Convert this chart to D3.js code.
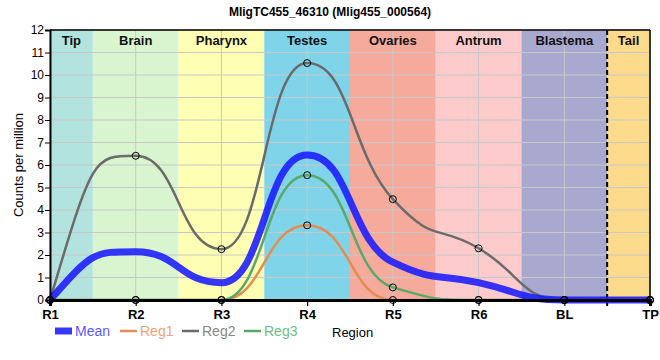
<!DOCTYPE html>
<html><head><meta charset="utf-8">
<script src="https://cdn.jsdelivr.net/npm/d3@7"></script>
<style>
html,body{margin:0;padding:0;background:#fff;}
svg{display:block;}
text{font-family:"Liberation Sans",Arial,sans-serif;}
</style></head>
<body>
<svg id="chart" width="660" height="360"></svg>
<script>
// ---- data ----
const regions = ["R1","R2","R3","R4","R5","R6","BL","TP"];
const bandNames = ["Tip","Brain","Pharynx","Testes","Ovaries","Antrum","Blastema","Tail"];
const bandColors = ["#b3e3de","#d9f5d0","#ffffb4","#7fd4ea","#f5aa9c","#fdcbcb","#a9a8cf","#fddb8c"];
const yTicks = [0,1,2,3,4,5,6,7,8,9,10,11,12];
const meanVals = [0, 2.15, 0.77, 6.45, 1.68, 0.77, 0, 0];
const reg1Vals = [0, 0, 0, 3.32, 0, 0, 0, 0];
const reg2Vals = [0, 6.41, 2.26, 10.53, 4.48, 2.30, 0, 0];
const reg3Vals = [0, 0, 0, 5.55, 0.56, 0, 0, 0];
const seriesNames = ["Mean","Reg1","Reg2","Reg3"];

// ---- layout ----
const L = 50, R = 650, T = 30, B = 300;
const svg = d3.select("#chart");

const xi = d3.scaleLinear().domain([0, regions.length - 1]).range([L, R]);
const xp = d3.scalePoint().domain(regions).range([L, R]);
const y = d3.scaleLinear().domain([0, 12]).range([B, T]);

// custom smooth monotone curve (handles pushed to segment middle)
function curveSmooth(context) {
  let pts = [];
  const A = 0.5;
  return {
    areaStart(){}, areaEnd(){},
    lineStart(){ pts = []; },
    point(x, yv){ pts.push([+x, +yv]); },
    lineEnd(){
      const n = pts.length;
      if (!n) return;
      context.moveTo(pts[0][0], pts[0][1]);
      if (n === 1) return;
      const s = [];
      for (let i = 0; i < n - 1; i++) s.push((pts[i+1][1]-pts[i][1])/(pts[i+1][0]-pts[i][0]));
      const m = new Array(n).fill(0);
      for (let i = 1; i < n - 1; i++) {
        const s0 = s[i-1], s1 = s[i];
        const p = (s0 + s1) / 2;
        m[i] = (Math.sign(s0) + Math.sign(s1)) * Math.min(Math.abs(s0), Math.abs(s1), 0.5*Math.abs(p)) || 0;
      }
      const endT = (sv, mn) => {
        if (sv === 0) return 0;
        let t = 3*sv - mn;
        if (Math.sign(t) !== Math.sign(sv)) return 0;
        if (Math.abs(t) > 3*Math.abs(sv)) t = 3*sv;
        return t;
      };
      m[0] = endT(s[0], n > 2 ? m[1] : s[0]);
      m[n-1] = endT(s[n-2], n > 2 ? m[n-2] : s[n-2]);
      const clamp = (v, a, b) => Math.max(Math.min(a, b), Math.min(Math.max(a, b), v));
      for (let i = 0; i < n - 1; i++) {
        const [x0, y0] = pts[i], [x1, y1] = pts[i+1];
        const dx = (x1 - x0) * A;
        const c1y = clamp(y0 + dx*m[i], y0, y1);
        const c2y = clamp(y1 - dx*m[i+1], y0, y1);
        context.bezierCurveTo(x0 + dx, c1y, x1 - dx, c2y, x1, y1);
      }
    }
  };
}

// bands
const bands = bandNames.map((name, i) => ({
  name, color: bandColors[i],
  x0: xi(Math.max(0, i - 0.5)), x1: xi(Math.min(regions.length - 1, i + 0.5)), cx: xi(i)
}));
svg.append("g").selectAll("rect").data(bands).join("rect")
  .attr("x", d => d.x0).attr("y", T).attr("width", d => d.x1 - d.x0).attr("height", B - T)
  .attr("fill", d => d.color);

// grid
const grid = svg.append("g").attr("stroke", "#c8c8c8").attr("stroke-width", 1);
grid.selectAll("line.h").data(yTicks).join("line").attr("class","h")
  .attr("x1", L).attr("x2", R).attr("y1", d => y(d)).attr("y2", d => y(d));
grid.selectAll("line.v").data(regions).join("line").attr("class","v")
  .attr("x1", d => xp(d)).attr("x2", d => xp(d)).attr("y1", T).attr("y2", B);

// band labels
svg.append("g").selectAll("text").data(bands).join("text")
  .attr("x", (d, i) => (i === 0 || i === bands.length - 1) ? (d.x0 + d.x1)/2 : d.cx)
  .attr("y", T + 15)
  .attr("text-anchor", "middle").attr("font-size", 13).attr("font-weight", "bold")
  .attr("fill", "#111").text(d => d.name);

// dashed separator between BL and TP
svg.append("line")
  .attr("x1", xi(regions.length - 1.5)).attr("x2", xi(regions.length - 1.5))
  .attr("y1", T).attr("y2", B + 6)
  .attr("stroke", "#000").attr("stroke-width", 2).attr("stroke-dasharray", "5,3");

// lines
const line = d3.line().x((d, i) => xi(i)).y(d => y(d)).curve(curveSmooth);
const series = [
  {name: "Reg1", vals: reg1Vals, color: "#e38d52", width: 2.5, text: "#f0a274"},
  {name: "Reg2", vals: reg2Vals, color: "#6b6b6b", width: 2.5, text: "#888888"},
  {name: "Reg3", vals: reg3Vals, color: "#5aa86a", width: 2.5, text: "#6cbc82"},
  {name: "Mean", vals: meanVals, color: "#1a1aff", width: 7, text: "#5a5aff", opacity: 0.88}
];
svg.append("g").selectAll("path").data(series).join("path")
  .attr("d", d => line(d.vals))
  .attr("fill", "none").attr("stroke", d => d.color)
  .attr("stroke-width", d => d.width)
  .attr("stroke-opacity", d => d.opacity || 1)
  .attr("stroke-linejoin", "round");

// axes
const yAxis = d3.axisLeft(y).tickValues(yTicks).tickSize(5).tickFormat(d3.format("d"));
const gy = svg.append("g").attr("transform", `translate(${L},0)`).call(yAxis);
gy.select(".domain").attr("stroke", "#000").attr("stroke-width", 2);
gy.selectAll(".tick line").attr("stroke", "#000");
gy.selectAll(".tick text").attr("font-size", 12).attr("font-family", "Liberation Sans, Arial, sans-serif").attr("fill", "#000").attr("x", -6);

const xAxis = d3.axisBottom(xp).tickSize(6).tickPadding(4);
const gx = svg.append("g").attr("transform", `translate(0,${B})`).call(xAxis);
gx.select(".domain").attr("stroke", "#000").attr("stroke-width", 3);
gx.selectAll(".tick line").attr("stroke", "#000").attr("stroke-width", 1.2);
gx.selectAll(".tick text").attr("font-size", 13).attr("font-weight", 600)
  .attr("font-family", "Roboto, sans-serif").attr("fill", "#000");

// top/right frame
svg.append("line").attr("x1", L).attr("x2", R).attr("y1", T).attr("y2", T).attr("stroke", "#000").attr("stroke-width", 1.5);
svg.append("line").attr("x1", R).attr("x2", R).attr("y1", T).attr("y2", B).attr("stroke", "#000").attr("stroke-width", 1.5);

// markers on Reg series
const markerData = [];
series.filter(s => s.name !== "Mean").forEach(s => s.vals.forEach((v, i) => markerData.push({i, v})));
svg.append("g").selectAll("circle").data(markerData).join("circle")
  .attr("cx", d => xi(d.i)).attr("cy", d => y(d.v)).attr("r", 3.5)
  .attr("fill", "none").attr("stroke", "#000").attr("stroke-width", 1);

// title
svg.append("text").attr("x", 330).attr("y", 16).attr("text-anchor", "middle")
  .attr("font-size", 12).attr("font-weight", "bold").attr("fill", "#000")
  .text("MligTC455_46310 (Mlig455_000564)");

// y label
svg.append("text").attr("transform", `translate(23,${(T + B)/2}) rotate(-90)`)
  .attr("text-anchor", "middle").attr("font-size", 13).attr("fill", "#000")
  .text("Counts per million");

// legend
const legendOrder = seriesNames.map(n => series.find(s => s.name === n));
const lg = svg.append("g").attr("transform", "translate(55,331)");
const lgItems = lg.selectAll("g").data(legendOrder).join("g")
  .attr("transform", (d, i) => `translate(${i * 62 + (i > 0 ? 3 : 0)},0)`);
lgItems.append("line").attr("x1", 0).attr("x2", 17).attr("y1", 0).attr("y2", 0)
  .attr("stroke", d => d.color).attr("stroke-opacity", d => d.opacity || 1)
  .attr("stroke-width", d => d.name === "Mean" ? 7 : 2.5);
lgItems.append("text").attr("x", 20).attr("y", 5).attr("font-size", 14)
  .attr("font-family", "Roboto, sans-serif").attr("fill", d => d.text).text(d => d.name);

svg.append("text").attr("x", 332).attr("y", 337).attr("font-size", 13)
  .attr("font-family", "Roboto, sans-serif").attr("fill", "#000").text("Region");
</script>
</body></html>
